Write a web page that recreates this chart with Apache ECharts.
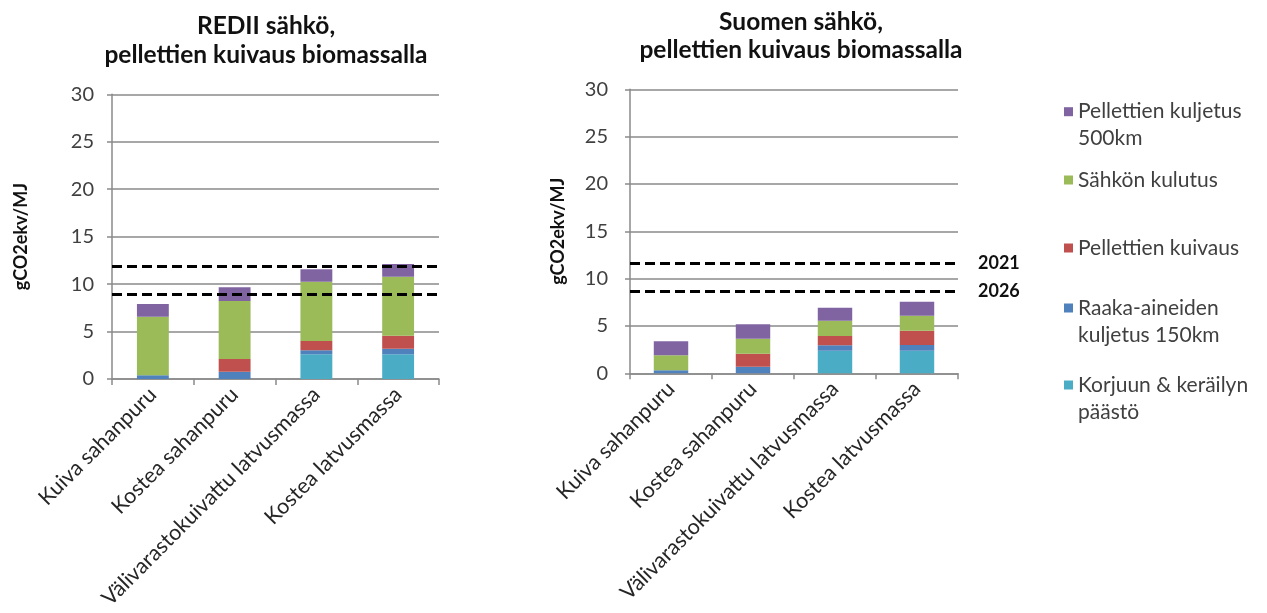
<!DOCTYPE html>
<html>
<head>
<meta charset="utf-8">
<script src="https://cdn.jsdelivr.net/npm/echarts@6/dist/echarts.min.js"></script>
<style>
  html, body { margin: 0; padding: 0; background: #ffffff; }
  #chart { width: 1267px; height: 613px; }
</style>
</head>
<body>
<div id="chart"></div>
<script>
// Raw material categories (x axis)
const categories = ['Kuiva sahanpuru', 'Kostea sahanpuru', 'Välivarastokuivattu latvusmassa', 'Kostea latvusmassa'];

// Emission components, bottom of stack first
const seriesNames = ['Korjuun & keräilyn päästö', 'Raaka-aineiden kuljetus 150km', 'Pellettien kuivaus', 'Sähkön kulutus', 'Pellettien kuljetus 500km'];
const legendLabels = ['Korjuun & keräilyn\npäästö', 'Raaka-aineiden\nkuljetus 150km', 'Pellettien kuivaus', 'Sähkön kulutus', 'Pellettien kuljetus\n500km'];
const seriesColors = ['#4BACC6', '#4F81BD', '#C0504D', '#9BBB59', '#8064A2'];

// REDII electricity, gCO2ekv/MJ
const redKorjuu   = [0, 0, 2.6, 2.6];
const redRaaka    = [0.39, 0.77, 0.42, 0.6];
const redKuivaus  = [0, 1.34, 0.98, 1.37];
const redSahko    = [6.18, 6.11, 6.26, 6.21];
const redPelletti = [1.33, 1.44, 1.3, 1.34];

// Finnish electricity, gCO2ekv/MJ
const fiKorjuu   = [0, 0, 2.39, 2.39];
const fiRaaka    = [0.32, 0.7, 0.57, 0.6];
const fiKuivaus  = [0, 1.37, 0.98, 1.51];
const fiSahko    = [1.58, 1.58, 1.62, 1.58];
const fiPelletti = [1.48, 1.52, 1.37, 1.48];

// Emission limits (2021, 2026)
const limitYears = ['2021', '2026'];
const redLimits = [11.83, 8.88];
const fiLimits  = [11.65, 8.66];

// Value axis
const yMin = 0, yMax = 30, yStep = 5;

const FONT = 'Lato, "Open Sans", sans-serif';
const GRAY = '#8a8a8a';

const redData = [redKorjuu, redRaaka, redKuivaus, redSahko, redPelletti];
const fiData  = [fiKorjuu, fiRaaka, fiKuivaus, fiSahko, fiPelletti];

function limitLine(values, withLabels) {
  return {
    symbol: 'none',
    silent: true,
    lineStyle: { color: '#000000', width: 3, type: [10, 5] },
    label: withLabels ? {
      show: true, position: 'end', distance: 20,
      fontFamily: FONT, fontWeight: 'bold', fontSize: 18, color: '#111111',
      formatter: p => p.name
    } : { show: false },
    data: values.map((v, i) => ({ name: limitYears[i], yAxis: v }))
  };
}

function buildSeries(data, idx, stackName, barWidth, limits, withLabels) {
  return data.map((vals, i) => ({
    name: seriesNames[i],
    type: 'bar',
    stack: stackName,
    xAxisIndex: idx,
    yAxisIndex: idx,
    barWidth: barWidth,
    itemStyle: { color: seriesColors[i] },
    emphasis: { disabled: true },
    data: vals,
    markLine: i === 0 ? limitLine(limits, withLabels) : undefined
  }));
}

function xAxisOf(idx) {
  return {
    type: 'category', gridIndex: idx, data: categories,
    axisLine: { lineStyle: { color: GRAY, width: 1.5 } },
    axisTick: { show: true, length: 6, lineStyle: { color: GRAY, width: 1.5 } },
    axisLabel: { interval: 0, rotate: 45, margin: 12, fontFamily: FONT, fontSize: 21.5, color: '#262626' }
  };
}

function yAxisOf(idx, gap, labelMargin) {
  return {
    type: 'value', gridIndex: idx, min: yMin, max: yMax, interval: yStep,
    name: 'gCO2ekv/MJ', nameLocation: 'middle', nameRotate: 90, nameGap: gap,
    nameTextStyle: { fontFamily: FONT, fontWeight: 'bold', fontSize: 18, color: '#111111' },
    axisLine: { show: true, lineStyle: { color: GRAY, width: 1.5 } },
    axisTick: { show: true, length: 5, lineStyle: { color: GRAY, width: 1.5 } },
    axisLabel: { margin: labelMargin, fontFamily: FONT, fontSize: 20, color: '#404040' },
    splitLine: { lineStyle: { color: GRAY, width: 1.5 } }
  };
}

// One legend block per entry so each row sits at its own height.
// Two-line entries get a blank first line so the marker lines up with the first text line.
const legendRows = [385, 308, 248, 180, 111.7];
const LH = 27;
const legends = seriesNames.map((name, i) => {
  const twoLine = legendLabels[i].indexOf('\n') >= 0;
  const text = twoLine ? ' \n' + legendLabels[i] : legendLabels[i];
  return {
    data: [name],
    left: 1064,
    top: legendRows[i] - (twoLine ? 1.5 * LH : 0.5 * LH),
    padding: 0,
    icon: 'rect', itemWidth: 9, itemHeight: 9,
    selectedMode: false,
    formatter: () => text,
    textStyle: { fontFamily: FONT, fontSize: 21, color: '#404040', lineHeight: LH }
  };
});

const chart = echarts.init(document.getElementById('chart'), null, { renderer: 'canvas' });
chart.setOption({
  backgroundColor: '#ffffff',
  animation: false,
  title: [
    { text: 'REDII sähkö,\npellettien kuivaus biomassalla', left: 261, top: 7, textAlign: 'center',
      textStyle: { fontFamily: FONT, fontWeight: 'bold', fontSize: 24.5, lineHeight: 29, color: '#111111' } },
    { text: 'Suomen sähkö,\npellettien kuivaus biomassalla', left: 796, top: 3, textAlign: 'center',
      textStyle: { fontFamily: FONT, fontWeight: 'bold', fontSize: 24.5, lineHeight: 28, color: '#111111' } }
  ],
  legend: legends,
  grid: [
    { left: 112, top: 94.3, width: 327, height: 284.7 },
    { left: 630, top: 89.3, width: 328, height: 284 }
  ],
  xAxis: [xAxisOf(0), xAxisOf(1)],
  yAxis: [yAxisOf(0, 82, 18), yAxisOf(1, 63, 22)],
  series: [
    ...buildSeries(redData, 0, 'red', '39%', redLimits, false),
    ...buildSeries(fiData, 1, 'fi', '42%', fiLimits, true)
  ]
});
</script>
</body>
</html>
